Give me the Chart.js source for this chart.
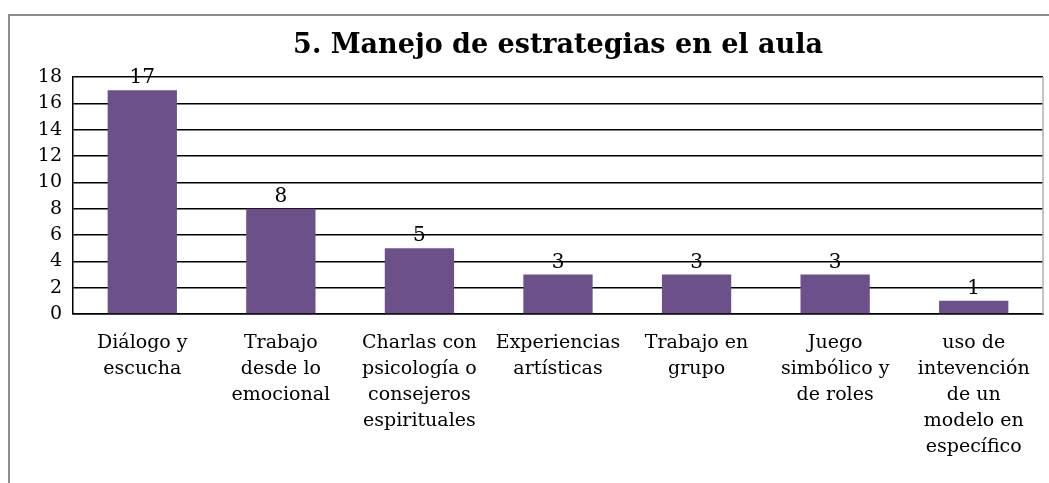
<!DOCTYPE html>
<html>
<head>
<meta charset="utf-8">
<script src="https://cdn.jsdelivr.net/npm/chart.js@4/dist/chart.umd.min.js"></script>
<style>
  html, body { margin: 0; padding: 0; background: #fff; }
  #wrap { position: relative; width: 1049px; height: 483px; overflow: hidden; }
  #frame { position: absolute; left: 8px; top: 14px; right: -10px; bottom: -10px;
           border-left: 2px solid #8c8c8c; border-top: 2px solid #8c8c8c; }
  canvas { position: absolute; left: 0; top: 0; }
</style>
</head>
<body>
<div id="wrap">
  <div id="frame"></div>
  <canvas id="chart" width="1049" height="483"></canvas>
</div>
<script>
// categories (wrapped the way they show under the axis)
const categories = [
    ['Diálogo y', 'escucha'],
    ['Trabajo', 'desde lo', 'emocional'],
    ['Charlas con', 'psicología o', 'consejeros', 'espirituales'],
    ['Experiencias', 'artísticas'],
    ['Trabajo en', 'grupo'],
    ['Juego', 'simbólico y', 'de roles'],
    ['uso de', 'intevención', 'de un', 'modelo en', 'específico'],
];
const values = [17, 8, 5, 3, 3, 3, 1];
const yTicks = [0, 2, 4, 6, 8, 10, 12, 14, 16, 18];

const FONT = "'DejaVu Serif', 'Liberation Serif', serif";

// value labels above each bar + light right edge of the plot area
const barLabels = {
    id: 'barLabels',
    beforeDatasetsDraw(chart) {
        const c = chart.ctx, a = chart.chartArea;
        c.save();
        c.strokeStyle = '#b0b0b0';
        c.lineWidth = 1.5;
        c.beginPath();
        c.moveTo(a.right, a.top);
        c.lineTo(a.right, a.bottom);
        c.stroke();
        c.restore();
    },
    afterDatasetsDraw(chart) {
        const c = chart.ctx;
        const meta = chart.getDatasetMeta(0);
        c.save();
        c.font = '20px ' + FONT;
        c.fillStyle = '#000';
        c.textAlign = 'center';
        c.textBaseline = 'alphabetic';
        meta.data.forEach((bar, i) => {
            c.fillText(values[i], bar.x, bar.y - 7);
        });
        c.restore();
    }
};

const ctx = document.getElementById('chart').getContext('2d');
const chart = new Chart(ctx, {
    type: 'bar',
    data: {
        labels: categories,
        datasets: [{
            data: values,
            backgroundColor: '#6b5089',
            barPercentage: 0.5,
            categoryPercentage: 1.0,
        }],
    },
    options: {
        responsive: false,
        animation: false,
        layout: { padding: { left: 0, right: 6, top: 0, bottom: 0 } },
        plugins: {
            legend: { display: false },
            tooltip: { enabled: false },
            title: {
                display: true,
                fullSize: false,
                text: '5. Manejo de estrategias en el aula',
                color: '#000',
                font: { family: FONT, size: 27, weight: 'bold', lineHeight: 1.15 },
                padding: { top: 30, bottom: 16 },
            },
        },
        scales: {
            x: {
                grid: { display: false, drawTicks: false },
                border: { color: '#000', width: 1.5 },
                ticks: {
                    color: '#000',
                    font: { family: FONT, size: 19, lineHeight: 1.37 },
                    padding: 16,
                    maxRotation: 0,
                    autoSkip: false,
                },
                afterFit(scale) { scale.height = 169; },
            },
            y: {
                min: 0,
                max: 18,
                afterBuildTicks(scale) { scale.ticks = yTicks.map(v => ({ value: v })); },
                grid: { color: '#000', lineWidth: 1.5, drawTicks: false },
                border: { color: '#000', width: 1.5 },
                ticks: {
                    color: '#000',
                    font: { family: FONT, size: 19, lineHeight: 1 },
                    padding: 11,
                    autoSkip: false,
                },
                afterFit(scale) { scale.width = 73; },
            },
        },
    },
    plugins: [barLabels],
});
</script>
</body>
</html>
